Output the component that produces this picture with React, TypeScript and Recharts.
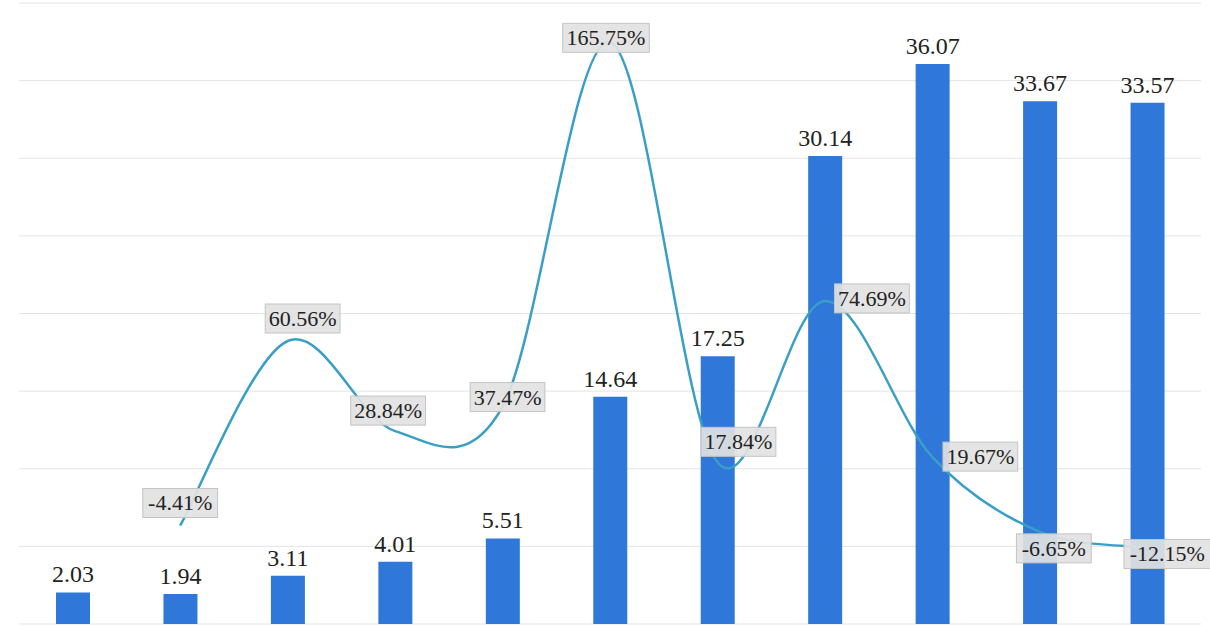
import React from "react";
import { ComposedChart, Bar, Line, XAxis, YAxis, CartesianGrid, LabelList } from "recharts";

// values
const years = ["1", "2", "3", "4", "5", "6", "7", "8", "9", "10", "11"];
const amounts = [2.03, 1.94, 3.11, 4.01, 5.51, 14.64, 17.25, 30.14, 36.07, 33.67, 33.57];
const growth: (number | null)[] = [null, -4.41, 60.56, 28.84, 37.47, 165.75, 17.84, 74.69, 19.67, -6.65, -12.15];
const leftTicks = [0, 5, 10, 15, 20, 25, 30, 35, 40];

const data = years.map((y, i) => ({ year: y, amount: amounts[i], growth: growth[i] }));

const BAR = "#2f77d9";
const LINE = "#3a9fc6";
const SERIF = "Liberation Serif";

// smooth line through the points, like a spreadsheet "smoothed line"
function smoothCurve(context: any) {
  let pts: [number, number][] = [];
  return {
    areaStart() {},
    areaEnd() {},
    lineStart() {
      pts = [];
    },
    lineEnd() {
      if (!pts.length) return;
      context.moveTo(pts[0][0], pts[0][1]);
      for (let i = 0; i < pts.length - 1; i++) {
        const p0 = pts[i - 1] || pts[i];
        const p1 = pts[i];
        const p2 = pts[i + 1];
        const p3 = pts[i + 2] || p2;
        context.bezierCurveTo(
          p1[0] + (p2[0] - p0[0]) / 6,
          p1[1] + (p2[1] - p0[1]) / 6,
          p2[0] - (p3[0] - p1[0]) / 6,
          p2[1] - (p3[1] - p1[1]) / 6,
          p2[0],
          p2[1]
        );
      }
    },
    point(x: number, y: number) {
      pts.push([+x, +y]);
    },
  };
}

// where each percent box sits relative to its point
const nudge: Record<number, [number, number]> = {
  1: [0, -23],
  2: [15, -23],
  3: [-7, -21],
  4: [5, -10],
  5: [-4, -5],
  6: [21, -21],
  7: [47, -3],
  8: [48, -1],
  9: [14, 16],
  10: [20, 6],
};

const BarLabel = (props: any) => {
  const { x, y, width, value } = props;
  return (
    <text x={x + width / 2} y={y - 10} textAnchor="middle" fontFamily={SERIF} fontSize={24} fill="#222">
      {Number(value).toFixed(2)}
    </text>
  );
};

const PctLabel = (props: any) => {
  const { x, y, value, index } = props;
  if (value == null) return null;
  const [dx, dy] = nudge[index] || [0, -20];
  const text = `${value.toFixed(2)}%`;
  const w = text.length * 11.8 + 4;
  const cx = x + dx;
  const cy = y + dy;
  return (
    <g>
      <rect x={cx - w / 2} y={cy - 14} width={w} height={29} fill="#e2e2e2" fillOpacity={0.92} stroke="#c4c4c4" />
      <text x={cx} y={cy + 8} textAnchor="middle" fontFamily={SERIF} fontSize={22} fill="#222">
        {text}
      </text>
    </g>
  );
};

export default function App() {
  return (
    <div style={{ position: "fixed", left: 0, top: 0, background: "#fff" }}>
      <ComposedChart width={1210} height={626} data={data} margin={{ top: 3, right: 9, left: 19, bottom: 2 }} barCategoryGap={0}>
        <CartesianGrid yAxisId="left" vertical={false} stroke="#e4e4e4" />
        <XAxis dataKey="year" hide />
        <YAxis yAxisId="left" hide domain={[0, 40]} ticks={leftTicks} />
        <YAxis yAxisId="right" orientation="right" hide domain={[-39.1, 179.6]} />
        <Bar yAxisId="left" dataKey="amount" fill={BAR} barSize={34} isAnimationActive={false}>
          <LabelList dataKey="amount" content={BarLabel} />
        </Bar>
        <Line
          yAxisId="right"
          dataKey="growth"
          type={smoothCurve as any}
          stroke={LINE}
          strokeWidth={2.5}
          dot={false}
          activeDot={false}
          isAnimationActive={false}
        >
          <LabelList dataKey="growth" content={PctLabel} />
        </Line>
      </ComposedChart>
    </div>
  );
}
